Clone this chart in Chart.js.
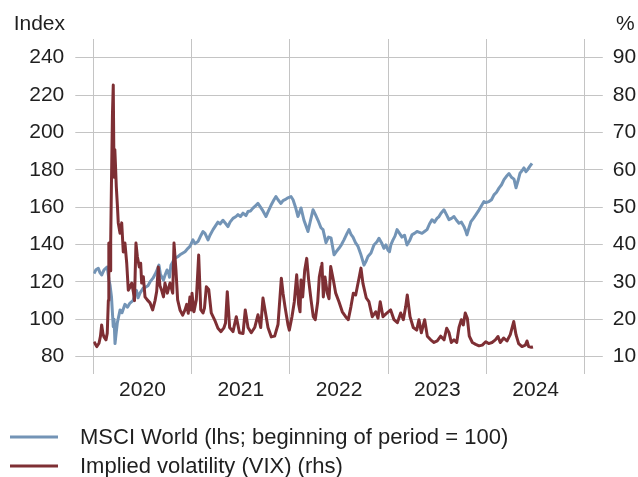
<!DOCTYPE html>
<html>
<head>
<meta charset="utf-8">
<script src="https://cdn.jsdelivr.net/npm/chart.js@4/dist/chart.umd.min.js"></script>
<style>
  html, body { margin: 0; padding: 0; background: #ffffff; }
  #wrap { position: relative; width: 638px; height: 477px; overflow: hidden; }
  canvas { display: block; }
</style>
</head>
<body>
<div id="wrap"><canvas id="chart" width="638" height="477"></canvas></div>
<script>
// Time positions are fractional years (2020.5 = mid-2020)
const msciTime = [
  2020.007, 2020.027, 2020.051, 2020.068, 2020.085, 2020.109, 2020.142, 2020.160, 2020.170, 2020.185,
  2020.203, 2020.211, 2020.221, 2020.231, 2020.244, 2020.272, 2020.292, 2020.322, 2020.348, 2020.373,
  2020.404, 2020.424, 2020.439, 2020.455, 2020.475, 2020.505, 2020.526, 2020.556, 2020.577, 2020.607,
  2020.638, 2020.668, 2020.683, 2020.699, 2020.714, 2020.729, 2020.750, 2020.765, 2020.775, 2020.790,
  2020.811, 2020.831, 2020.861, 2020.882, 2020.912, 2020.933, 2020.963, 2020.983,
  2021.014, 2021.035, 2021.065, 2021.096, 2021.116, 2021.136, 2021.167, 2021.187, 2021.218, 2021.243,
  2021.268, 2021.289, 2021.319, 2021.350, 2021.370, 2021.391, 2021.421, 2021.452, 2021.472, 2021.497,
  2021.523, 2021.553, 2021.574, 2021.599, 2021.624, 2021.655, 2021.675, 2021.706, 2021.726, 2021.757,
  2021.777, 2021.808, 2021.838, 2021.858, 2021.879, 2021.909, 2021.930, 2021.950, 2021.980,
  2022.011, 2022.032, 2022.057, 2022.082, 2022.113, 2022.143, 2022.164, 2022.184, 2022.210, 2022.235,
  2022.260, 2022.286, 2022.316, 2022.337, 2022.367, 2022.393, 2022.418, 2022.449, 2022.469, 2022.499,
  2022.525, 2022.550, 2022.581, 2022.601, 2022.621, 2022.642, 2022.667, 2022.693, 2022.723, 2022.754,
  2022.774, 2022.794, 2022.825, 2022.855, 2022.886, 2022.906, 2022.932, 2022.957, 2022.977, 2022.998,
  2023.013, 2023.028, 2023.049, 2023.069, 2023.090, 2023.115, 2023.140, 2023.166, 2023.191, 2023.217,
  2023.242, 2023.267, 2023.293, 2023.318, 2023.344, 2023.369, 2023.395, 2023.420, 2023.445, 2023.471,
  2023.496, 2023.517, 2023.537, 2023.567, 2023.593, 2023.618, 2023.644, 2023.669, 2023.695, 2023.720,
  2023.745, 2023.771, 2023.791, 2023.801, 2023.822, 2023.842, 2023.867, 2023.893, 2023.918, 2023.944,
  2023.974, 2023.995,
  2024.025, 2024.051, 2024.076, 2024.102, 2024.127, 2024.153, 2024.178, 2024.203, 2024.229, 2024.254,
  2024.280, 2024.300, 2024.320, 2024.341, 2024.361, 2024.381, 2024.402, 2024.417, 2024.442, 2024.463
];
const msciIndex = [
  124.5, 126.5, 127.3, 125, 123.7, 126.5, 128, 121, 118.4, 112,
  96, 100, 87, 92, 98, 105, 103.5, 108, 106.5, 108.7,
  110, 113, 115.5, 111.5, 114, 116.5, 117, 118, 120, 122,
  125, 129, 124, 122.5, 121, 123.5, 126.4, 125, 122.5, 129,
  131, 132.8, 133.5, 134.5, 135.5, 136.2, 138, 139,
  142.5, 140.5, 141.6, 145, 147, 146, 142.5, 145, 148, 150,
  152, 151, 153, 151, 149.6, 152, 154, 155, 156, 155,
  156.8, 155.5, 157.7, 158, 159.5, 161, 162, 159.6, 158, 155,
  157.5, 161, 164, 165.7, 164, 162, 163.5, 164, 165,
  165.7, 164, 160, 155, 159.6, 153, 150, 147, 153, 158.6,
  156, 153, 149, 148, 141, 144, 143.6, 134.5, 136, 138,
  140, 142.5, 146, 148, 145.5, 144, 141, 139, 134.5, 129,
  131, 133.6, 135.5, 139.8, 141.5, 143.4, 141, 138, 139.8, 137,
  136.2, 140, 142.5, 144.5, 148, 146, 144, 145, 139.8, 142,
  145.2, 146, 147, 146.5, 146, 147, 148, 151, 153.3, 152,
  154, 155, 156.8, 158.6, 156, 153.3, 154, 155, 153, 151.4,
  152, 149.6, 147, 145.2, 149, 152.3, 154, 156, 158, 160.4,
  163, 162.5,
  163, 164, 166.6, 168, 170.2, 172, 174.7, 176.5, 178, 176,
  175, 170.4, 174, 178.2, 179.5, 181, 179, 180, 182, 183.5
];

const vixTime = [
  2020.007, 2020.035, 2020.058, 2020.073, 2020.085, 2020.099, 2020.109, 2020.129, 2020.142, 2020.153,
  2020.158, 2020.170, 2020.177, 2020.185, 2020.195, 2020.203, 2020.211, 2020.219, 2020.226, 2020.234,
  2020.246, 2020.254, 2020.272, 2020.289, 2020.305, 2020.322, 2020.340, 2020.356, 2020.373, 2020.391,
  2020.407, 2020.419, 2020.434, 2020.448, 2020.468, 2020.482, 2020.492, 2020.509, 2020.526, 2020.549,
  2020.577, 2020.604, 2020.628, 2020.645, 2020.661, 2020.678, 2020.695, 2020.714, 2020.729, 2020.753,
  2020.780, 2020.808, 2020.821, 2020.841, 2020.858, 2020.882, 2020.909, 2020.933, 2020.950, 2020.966,
  2020.983, 2020.994,
  2021.004, 2021.024, 2021.048, 2021.072, 2021.093, 2021.116, 2021.131, 2021.150, 2021.174, 2021.200,
  2021.235, 2021.268, 2021.299, 2021.330, 2021.345, 2021.363, 2021.387, 2021.421, 2021.455, 2021.487,
  2021.523, 2021.546, 2021.574, 2021.607, 2021.642, 2021.675, 2021.703, 2021.726, 2021.750, 2021.777,
  2021.811, 2021.845, 2021.879, 2021.913, 2021.930, 2021.950, 2021.980, 2021.994,
  2022.021, 2022.045, 2022.069, 2022.089, 2022.103, 2022.113, 2022.130, 2022.151, 2022.171, 2022.191,
  2022.215, 2022.238, 2022.258, 2022.283, 2022.299, 2022.319, 2022.326, 2022.340, 2022.357, 2022.380,
  2022.398, 2022.415, 2022.442, 2022.466, 2022.499, 2022.533, 2022.567, 2022.594, 2022.621, 2022.645,
  2022.669, 2022.703, 2022.723, 2022.743, 2022.777, 2022.804, 2022.838, 2022.873, 2022.896, 2022.919,
  2022.947, 2022.980,
  2023.025, 2023.059, 2023.093, 2023.127, 2023.154, 2023.178, 2023.194, 2023.222, 2023.255, 2023.290,
  2023.313, 2023.337, 2023.371, 2023.398, 2023.432, 2023.466, 2023.499, 2023.534, 2023.568, 2023.595,
  2023.618, 2023.642, 2023.669, 2023.697, 2023.720, 2023.744, 2023.764, 2023.784, 2023.805, 2023.825,
  2023.856, 2023.890, 2023.924, 2023.957, 2023.992,
  2024.022, 2024.056, 2024.090, 2024.117, 2024.140, 2024.175, 2024.208, 2024.242, 2024.277, 2024.300,
  2024.327, 2024.361, 2024.395, 2024.412, 2024.429, 2024.456, 2024.473
];
const vixLevel = [
  14, 12.7, 13.6, 15.5, 18.5, 16, 15.3, 14.5, 16.3, 25,
  40.4, 33, 41, 57, 75, 82.7, 58, 65.4, 61, 55.5,
  50, 45.8, 43, 45.8, 38, 40.4, 35, 27.8, 28.6, 29.7,
  27.4, 25, 40.4, 36.8, 34, 35, 29.7, 31.4, 26, 25.2,
  24.4, 22.5, 25, 27.5, 34, 29, 27.8, 26, 29.7, 27,
  29.7, 27, 40.4, 33.1, 25.2, 22.5, 21.1, 22.5, 24, 21.6,
  26, 22.5,
  27, 22, 25.2, 37.2, 22.6, 21.7, 23, 28.7, 28, 21.7,
  19.8, 17.6, 16.7, 17.8, 19, 27.4, 17.8, 16.7, 20.7, 16.4,
  16.2, 22.5, 17.8, 16.4, 17.8, 21.2, 17.8, 25.7, 22, 17.8,
  15.3, 15.5, 18.6, 31, 27, 23.4, 18.6, 17.1,
  20.7, 24.7, 31.9, 24, 22, 30.5, 26, 33.2, 36.3, 30.5,
  25.2, 20.7, 19.9, 24.7, 31.3, 34.1, 35, 26, 31.3, 27,
  25.5, 34.1, 30.5, 27, 24.7, 22, 20.7, 19.9, 23.4, 27,
  26.5, 31, 33.7, 29.6, 25.7, 24.7, 20.7, 22, 20.3, 24.7,
  20.7, 21.5,
  22.5, 19.9, 19.1, 21.7, 19.9, 23.4, 26.5, 20.7, 17.8, 17.1,
  19.9, 16.4, 19.9, 15.5, 14.5, 13.8, 14.2, 15.5, 14.5, 17.6,
  16.5, 13.8, 14.5, 13.8, 17.8, 19.9, 18.5, 21.7, 20.3, 15.5,
  13.8, 13.3, 12.9, 13.1, 14,
  13.5, 13.8, 14.5, 15.4, 13.8, 15, 14.2, 15.9, 19.4, 15.9,
  13.5, 12.7, 13.1, 14.2, 12.7, 12.5, 12.6
];

const yearLabels = ['2020', '2021', '2022', '2023', '2024'];
const indexTicks = [80, 100, 120, 140, 160, 180, 200, 220, 240];
const percentTicks = [10, 20, 30, 40, 50, 60, 70, 80, 90];
const seriesNames = ['MSCI World (lhs; beginning of period = 100)', 'Implied volatility (VIX) (rhs)'];
const axisUnits = ['Index', '%'];

const BLUE = '#7394b6';
const RED = '#7e2f34';
const GRID = '#c4c4c4';
const TEXT = '#1f1f1f';
const FONT = "'Liberation Sans', Arial, sans-serif";
const FONT_SIZE = 21;
const LEGEND_SIZE = 22;

const toPoints = (xs, ys) => xs.map((x, i) => ({ x: x, y: ys[i] }));

// Unit captions above the axes and the legend below the plot
const annotations = {
  id: 'annotations',
  afterDraw(chart) {
    const ctx = chart.ctx;
    ctx.save();
    ctx.font = FONT_SIZE + 'px ' + FONT;
    ctx.fillStyle = TEXT;
    ctx.textBaseline = 'alphabetic';
    ctx.textAlign = 'right';
    ctx.fillText(axisUnits[0], 65, 30);
    ctx.textAlign = 'left';
    ctx.fillText(axisUnits[1], 616, 30);

    ctx.font = LEGEND_SIZE + 'px ' + FONT;
    const rows = [{ c: BLUE, y: 437 }, { c: RED, y: 466 }];
    rows.forEach((r, i) => {
      ctx.strokeStyle = r.c;
      ctx.lineWidth = 3;
      ctx.beginPath();
      ctx.moveTo(10, r.y);
      ctx.lineTo(58, r.y);
      ctx.stroke();
      ctx.textBaseline = 'middle';
      ctx.textAlign = 'left';
      ctx.fillText(seriesNames[i], 80, r.y + 1);
    });
    ctx.restore();
  }
};

new Chart(document.getElementById('chart'), {
  type: 'line',
  data: {
    datasets: [
      {
        label: seriesNames[0],
        data: toPoints(msciTime, msciIndex),
        borderColor: BLUE,
        borderWidth: 3,
        pointRadius: 0,
        tension: 0,
        borderJoinStyle: 'round',
        yAxisID: 'y',
        order: 2
      },
      {
        label: seriesNames[1],
        data: toPoints(vixTime, vixLevel),
        borderColor: RED,
        borderWidth: 3,
        pointRadius: 0,
        tension: 0,
        borderJoinStyle: 'round',
        yAxisID: 'y1',
        order: 1
      }
    ]
  },
  options: {
    responsive: false,
    animation: false,
    devicePixelRatio: 1,
    layout: { padding: { top: 39, right: 0, bottom: 0, left: 0 } },
    plugins: { legend: { display: false }, tooltip: { enabled: false } },
    scales: {
      x: {
        type: 'linear',
        min: 2020,
        max: 2025,
        afterFit(scale) { scale.height = 103.5; },
        afterBuildTicks(scale) {
          const t = [];
          for (let v = 2020; v <= 2025; v += 0.5) t.push({ value: v });
          scale.ticks = t;
        },
        border: { display: false },
        grid: {
          drawTicks: false,
          color: (c) => (c.tick && Number.isInteger(c.tick.value)) ? GRID : 'rgba(0,0,0,0)',
          lineWidth: 1
        },
        ticks: {
          autoSkip: false,
          maxRotation: 0,
          padding: 4,
          color: TEXT,
          font: { family: FONT, size: FONT_SIZE },
          callback: (v) => {
            const i = Math.floor(v) - 2020;
            return (v % 1 !== 0 && i >= 0 && i < yearLabels.length) ? yearLabels[i] : '';
          }
        }
      },
      y: {
        position: 'left',
        min: 71,
        max: 250,
        afterFit(scale) { scale.width = 93.3; },
        afterBuildTicks(scale) { scale.ticks = indexTicks.map(v => ({ value: v })); },
        border: { display: false },
        grid: { color: GRID, lineWidth: 1, tickLength: 18 },
        ticks: {
          padding: 11,
          color: TEXT,
          font: { family: FONT, size: FONT_SIZE }
        }
      },
      y1: {
        position: 'right',
        min: 5.5,
        max: 95,
        afterFit(scale) { scale.width = 53.2; },
        afterBuildTicks(scale) { scale.ticks = percentTicks.map(v => ({ value: v })); },
        border: { display: false },
        grid: { color: GRID, lineWidth: 1, tickLength: 18, drawOnChartArea: false },
        ticks: {
          padding: 10,
          color: TEXT,
          font: { family: FONT, size: FONT_SIZE }
        }
      }
    }
  },
  plugins: [annotations]
});
</script>
</body>
</html>
